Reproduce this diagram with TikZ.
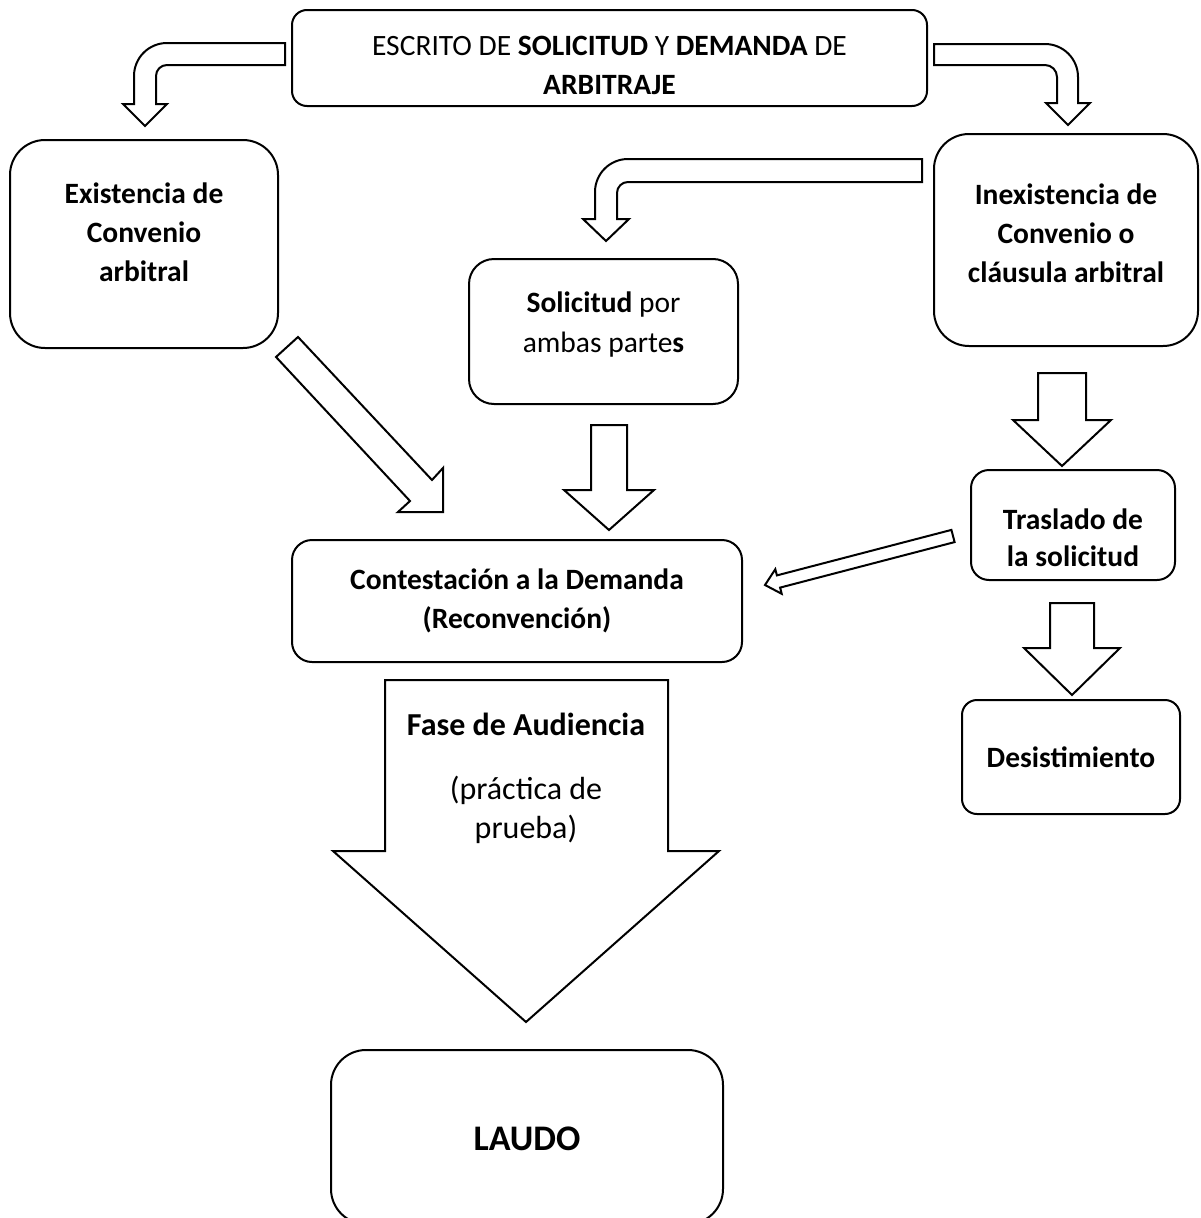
\documentclass[tikz,border=0pt]{standalone}
\usepackage{fontspec}
\setmainfont{Carlito}
\usepackage{tikz}

\begin{document}
\begin{tikzpicture}[
  x=1pt, y=-1pt,
  every node/.style={align=center},
  caja/.style={draw, line width=2pt, inner sep=0pt},
  texto/.style={inner sep=0pt, font=\bfseries\fontsize{29.5}{39}\selectfont},
  flecha/.style={draw, line width=2pt, fill=white, line join=miter},
]
\useasboundingbox[fill=white] (0,0) rectangle (1200,1218);

% cajas
\node[caja, minimum width=635pt, minimum height=96pt, rounded corners=15pt] (escrito) at (609.5,58) {};
\node[texto, font=\fontsize{29.5}{39}\selectfont] (escrito-txt) at ([yshift=-7pt]escrito.center) {ESCRITO DE \textbf{SOLICITUD} Y \textbf{DEMANDA} DE\\\textbf{ARBITRAJE}};
\node[caja, minimum width=268pt, minimum height=208pt, rounded corners=35pt] (existe) at (144,244) {};
\node[texto] (existe-txt) at ([yshift=12pt]existe.center) {Existencia de\\Convenio\\arbitral};
\node[caja, minimum width=264pt, minimum height=212pt, rounded corners=35pt] (inexiste) at (1066,240) {};
\node[texto] (inexiste-txt) at ([yshift=7pt]inexiste.center) {Inexistencia de\\Convenio o\\cláusula arbitral};
\node[caja, minimum width=269pt, minimum height=145pt, rounded corners=25pt] (solicitud) at (603.5,331.5) {};
\node[texto, font=\fontsize{29.5}{40}\selectfont] (solicitud-txt) at ([yshift=7pt]solicitud.center) {\textbf{Solicitud} por\\ambas parte\textbf{s}};
\node[caja, minimum width=450pt, minimum height=122pt, rounded corners=20pt] (contesta) at (517,601) {};
\node[texto] (contesta-txt) at (contesta.center) {Contestación a la Demanda\\(Reconvención)};
\node[caja, minimum width=204pt, minimum height=110pt, rounded corners=18pt] (traslado) at (1073,525) {};
\node[texto, font=\bfseries\fontsize{29.5}{37}\selectfont] (traslado-txt) at ([yshift=-13pt]traslado.center) {Traslado de\\la solicitud};
\node[caja, minimum width=218pt, minimum height=114pt, rounded corners=15pt] (desiste) at (1071,757) {};
\node[texto] (desiste-txt) at (desiste.center) {Desistimiento};
\node[caja, minimum width=392pt, minimum height=174pt, rounded corners=35pt] (laudo) at (527,1137) {};
\node[texto, font=\bfseries\fontsize{36}{40}\selectfont] (laudo-txt) at ([yshift=-2pt]laudo.center) {LAUDO};

% flechas curvas
\draw[flecha] (285,43) -- (167,43) arc[start angle=90, end angle=180, radius=33pt] -- (134,104) -- (123,104) -- (145,126) -- (167,104) -- (156,104) -- (156,76) arc[start angle=180, end angle=90, radius=11pt] -- (285,65) -- cycle;
\draw[flecha] (934,44) -- (1045,44) arc[start angle=90, end angle=0, radius=33pt] -- (1078,103) -- (1090,103) -- (1068,125) -- (1046,103) -- (1057,103) -- (1057,77) arc[start angle=0, end angle=90, radius=12pt] -- (934,65) -- cycle;
\draw[flecha] (922,159) -- (628,159) arc[start angle=90, end angle=180, radius=33pt] -- (595,219) -- (583,219) -- (606,241) -- (629,219) -- (617,219) -- (617,193) arc[start angle=180, end angle=90, radius=11pt] -- (922,182) -- cycle;

% flechas rectas
\draw[flecha] (298,337) -- (432,480) -- (443,468) -- (443,512) -- (398,512) -- (410,501) -- (276,357) -- cycle;
\draw[flecha] (591,425) -- (627,425) -- (627,490) -- (654,490) -- (609,530) -- (564,490) -- (591,490) -- cycle;
\draw[flecha] (1038,373) -- (1086,373) -- (1086,420) -- (1111,420) -- (1062,466) -- (1013,420) -- (1038,420) -- cycle;
\draw[flecha] (951.4,529.9) -- (776.9,575.4) -- (775.3,569.2) -- (765,585) -- (781.7,593.8) -- (780.1,587.6) -- (954.6,542.1) -- cycle;
\draw[flecha] (1050,603) -- (1094,603) -- (1094,648) -- (1120,648) -- (1072,695) -- (1024,648) -- (1050,648) -- cycle;

% fase de audiencia
\draw[flecha] (385,680) -- (668,680) -- (668,851) -- (719,851) -- (526,1022) -- (333,851) -- (385,851) -- cycle;
\node[anchor=base, font=\bfseries\fontsize{32}{38}\selectfont] (fase) at (526,735) {Fase de Audiencia};
\node[anchor=base, font=\fontsize{32}{38}\selectfont] (practica) at (526,799) {(práctica de};
\node[anchor=base, font=\fontsize{32}{38}\selectfont] (prueba) at (526,838) {prueba)};
\end{tikzpicture}
\end{document}
